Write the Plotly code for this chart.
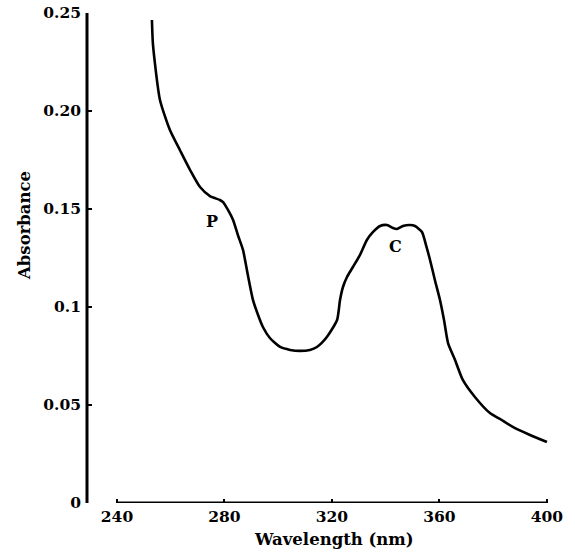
import plotly.graph_objects as go

wavelength = [253.0, 253.4, 256.0, 259.7, 263.4, 267.2, 270.9, 274.6, 278.3, 279.4,
              281.3, 283.2, 285.0, 286.9, 288.7, 290.6, 292.5, 294.3, 296.9, 300.7,
              304.4, 308.1, 311.8, 314.4, 318.1, 321.9, 323.0, 324.1, 325.6, 327.8,
              330.4, 333.0, 335.3, 337.9, 340.5, 342.7, 344.2, 346.4, 349.0, 350.9,
              353.5, 355.0, 356.5, 358.3, 360.2, 361.7, 363.2, 365.8, 368.7, 373.2,
              378.8, 382.5, 387.3, 393.7, 400.0]
absorbance = [0.2464, 0.2337, 0.2056, 0.1903, 0.1801, 0.1699, 0.1612, 0.1566, 0.1546, 0.1536,
              0.1495, 0.1444, 0.1367, 0.1291, 0.1163, 0.1036, 0.0959, 0.0898, 0.0842, 0.0796,
              0.0781, 0.0776, 0.0781, 0.0796, 0.0847, 0.0934, 0.1036, 0.1102, 0.1153, 0.1204,
              0.1265, 0.1342, 0.1383, 0.1413, 0.1418, 0.1403, 0.1398, 0.1413, 0.1418, 0.1413,
              0.1383, 0.1316, 0.1240, 0.1138, 0.1036, 0.0934, 0.0816, 0.0730, 0.0628, 0.0541,
              0.0459, 0.0429, 0.0388, 0.0347, 0.0311]

x_ticks = [240, 280, 320, 360, 400]
y_ticks = [0, 0.05, 0.1, 0.15, 0.20, 0.25]
y_tick_labels = ["0", "0.05", "0.1", "0.15", "0.20", "0.25"]

peak_labels = ["P", "C"]
peak_x = [275.3, 343.8]
peak_y = [0.1434, 0.1311]

x_title = "Wavelength (nm)"
y_title = "Absorbance"

FONT = "DejaVu Serif"

PW, PH = 575, 552
L, T = 87, 13
PLOT_W, PLOT_H = 461, 490

fig = go.Figure()
fig.add_trace(go.Scatter(x=wavelength, y=absorbance, mode="lines",
                         line=dict(color="black", width=2.6, shape="spline", smoothing=0.6),
                         showlegend=False, hoverinfo="skip"))

for t, xx, yy in zip(peak_labels, peak_x, peak_y):
    fig.add_annotation(x=xx, y=yy, text=t, showarrow=False,
                       font=dict(family=FONT, size=16, color="black", weight="bold"))

# axis titles
fig.add_annotation(xref="paper", yref="paper", x=(334 - 87) / PLOT_W, y=-(539 - 503) / PLOT_H,
                   text=x_title, showarrow=False, xanchor="center", yanchor="middle",
                   font=dict(family=FONT, size=16.5, color="black", weight="bold"))
fig.add_annotation(xref="paper", yref="paper", x=-(87 - 24) / PLOT_W, y=(503 - 226) / PLOT_H,
                   text=y_title, showarrow=False, textangle=-90,
                   xanchor="center", yanchor="middle",
                   font=dict(family=FONT, size=16.5, color="black", weight="bold"))

# axis lines
fig.add_shape(type="line", xref="x domain", yref="y", x0=0, x1=0, y0=-0.001, y1=0.25,
              line=dict(color="black", width=3))
fig.add_shape(type="line", xref="x", yref="y", x0=240, x1=400, y0=0, y1=0,
              line=dict(color="black", width=3))

fig.update_layout(
    width=PW, height=PH,
    margin=dict(l=L, r=PW - L - PLOT_W, t=T, b=PH - T - PLOT_H),
    paper_bgcolor="white", plot_bgcolor="white",
    font=dict(family=FONT, color="black"),
)
fig.update_xaxes(range=[228.84, 400.4], tickvals=x_ticks, ticks="inside", ticklen=4,
                 tickwidth=2, tickcolor="black", showgrid=False, zeroline=False, showline=False,
                 automargin=False, ticklabeloverflow="allow", ticklabelstandoff=2,
                 tickfont=dict(family=FONT, size=15.5, color="black", weight="bold"))
fig.update_yaxes(range=[0, 0.25], tickvals=y_ticks, ticktext=y_tick_labels, ticks="inside",
                 ticklen=5, tickwidth=2, tickcolor="black", showgrid=False, zeroline=False,
                 showline=False, automargin=False, ticklabeloverflow="allow",
                 ticklabelstandoff=5,
                 tickfont=dict(family=FONT, size=15.5, color="black", weight="bold"))

# remove the browser's default body margin so the figure fills the window exactly
fig.write_html("out.html",
               config={"displayModeBar": False},
               post_script="document.body.style.margin='0';document.body.style.overflow='hidden';")
